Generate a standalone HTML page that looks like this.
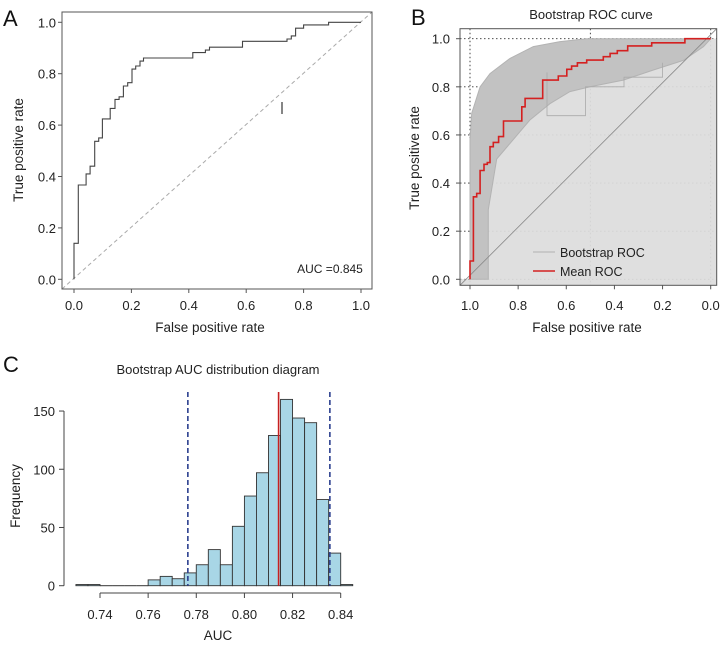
<!DOCTYPE html>
<html><head><meta charset="utf-8"><style>
html,body{margin:0;padding:0;background:#fff;}
svg{display:block;font-family:"Liberation Sans",Arial,sans-serif;}
</style></head><body>
<svg id="fig" width="723" height="647" viewBox="0 0 723 647" xmlns="http://www.w3.org/2000/svg">
<g id="pA"></g>
<g id="pB"></g>
<g id="pC"></g>
</svg>
<script>
// Panel A data
const rocA_fpr = [0,0,0.015,0.015,0.042,0.042,0.056,0.056,0.072,0.072,0.086,0.086,0.099,0.099,0.126,0.126,0.143,0.143,0.157,0.157,0.172,0.172,0.187,0.187,0.202,0.202,0.215,0.215,0.23,0.23,0.242,0.242,0.414,0.414,0.458,0.458,0.472,0.472,0.587,0.587,0.742,0.742,0.757,0.757,0.772,0.772,0.8,0.8,0.887,0.887,1];
const rocA_tpr = [0,0.14,0.14,0.367,0.367,0.41,0.41,0.44,0.44,0.537,0.537,0.55,0.55,0.624,0.624,0.665,0.665,0.70,0.70,0.71,0.71,0.752,0.752,0.765,0.765,0.818,0.818,0.83,0.83,0.849,0.849,0.861,0.861,0.882,0.882,0.892,0.892,0.903,0.903,0.926,0.926,0.935,0.935,0.947,0.947,0.977,0.977,0.99,0.99,1,1];
const ticksA = [0,0.2,0.4,0.6,0.8,1.0];
// Panel B data (x = axis value, reversed)
const meanB_x = [1,1,0.986,0.986,0.972,0.972,0.958,0.958,0.942,0.942,0.928,0.928,0.917,0.917,0.903,0.903,0.881,0.881,0.861,0.861,0.785,0.785,0.771,0.771,0.698,0.698,0.633,0.633,0.598,0.598,0.578,0.578,0.554,0.554,0.515,0.515,0.446,0.446,0.418,0.418,0.388,0.388,0.345,0.345,0.245,0.245,0.107,0.107,0];
const meanB_y = [0,0.076,0.076,0.343,0.343,0.357,0.357,0.452,0.452,0.478,0.478,0.485,0.485,0.551,0.551,0.569,0.569,0.593,0.593,0.658,0.658,0.717,0.717,0.752,0.752,0.828,0.828,0.845,0.845,0.873,0.873,0.886,0.886,0.90,0.90,0.911,0.911,0.925,0.925,0.939,0.939,0.95,0.95,0.97,0.97,0.983,0.983,1,1];
const upperB_x = [1,1,0.993,0.958,0.917,0.834,0.737,0.626,0.515,0];
const upperB_y = [0,0.58,0.69,0.80,0.855,0.918,0.967,0.988,1,1];
const lowerB_x = [1,0.924,0.924,0.889,0.834,0.751,0.668,0.585,0.501,0.363,0.238,0.114,0.03,0];
const lowerB_y = [0,0,0.29,0.50,0.565,0.662,0.73,0.78,0.80,0.828,0.87,0.91,0.967,1];
const outlierB_x = [0.68,0.68,0.52,0.52,0.36,0.36,0.20,0.20];
const outlierB_y = [0.86,0.68,0.68,0.80,0.80,0.84,0.84,0.90];
const ticksB = [1.0,0.8,0.6,0.4,0.2,0.0];
// Panel C data
const binStart = [0.730,0.735,0.740,0.745,0.750,0.755,0.760,0.765,0.770,0.775,0.780,0.785,0.790,0.795,0.800,0.805,0.810,0.815,0.820,0.825,0.830,0.835,0.840];
const binCount = [1,1,0,0,0,0,5,8,6,11,18,31,18,51,77,97,129,160,144,140,74,28,1];
const ciLines = [0.7765,0.8355];
const meanAUC = [0.8142];
const ticksCx = [0.74,0.76,0.78,0.80,0.82,0.84];
const ticksCy = [0,50,100,150];

const NS="http://www.w3.org/2000/svg";
function mk(parent,tag,attrs,text){const e=document.createElementNS(NS,tag);for(const k in attrs)e.setAttribute(k,attrs[k]);if(text!==undefined)e.textContent=text;parent.appendChild(e);return e;}
function path(xs,ys,sx,sy){return xs.map((x,i)=>(i?'L':'M')+sx(x).toFixed(1)+','+sy(ys[i]).toFixed(1)).join('');}

// ---------- Panel A ----------
const A=document.getElementById('pA');
const axA=v=>74+v*287, ayA=v=>279.3-v*257;
let e;
e=mk(A,'line',{x1:62,y1:289,x2:372,y2:12,stroke:'#aaa','stroke-width':1,'stroke-dasharray':'4,3'});


e=mk(A,'path',{d:path(rocA_fpr,rocA_tpr,axA,ayA),fill:'none',stroke:'#444','stroke-width':1.1});


e=mk(A,'rect',{x:62,y:12,width:310,height:277,fill:'none',stroke:'#555','stroke-width':1});


ticksA.forEach(t=>{
  mk(A,'line',{x1:axA(t),y1:289,x2:axA(t),y2:293,stroke:'#555'});
  e=mk(A,'text',{x:axA(t),y:310,'font-size':13,'text-anchor':'middle',fill:'#222'},t.toFixed(1));
  
  
  mk(A,'line',{x1:62,y1:ayA(t),x2:58,y2:ayA(t),stroke:'#555'});
  e=mk(A,'text',{x:56,y:ayA(t)+5,'font-size':13,'text-anchor':'end',fill:'#222'},t.toFixed(1));
  
  
});
e=mk(A,'text',{x:210,y:332,'font-size':13.5,'text-anchor':'middle',fill:'#222'},'False positive rate');


e=mk(A,'text',{x:23,y:150,'font-size':13.5,'text-anchor':'middle',fill:'#222',transform:'rotate(-90 23 150)'},'True positive rate');


e=mk(A,'text',{x:330,y:273,'font-size':12,'text-anchor':'middle',fill:'#222'},'AUC =0.845');


mk(A,'line',{x1:282,y1:102,x2:282,y2:114,stroke:'#444','stroke-width':1.3});
e=mk(A,'text',{x:3,y:26,'font-size':22,fill:'#111'},'A');



// ---------- Panel B ----------
const B=document.getElementById('pB');
const axB=v=>710.7-v*240.7, ayB=v=>279.3-v*240.6;
const L=460,T=28.7,R=716.7,Bt=285.3;
let up=path(upperB_x,upperB_y,axB,ayB)+'L'+R+','+ayB(1)+'L'+R+','+Bt+'L'+L+','+Bt+'L'+L+','+ayB(0)+'Z';
e=mk(B,'path',{d:up,fill:'#dedede',stroke:'none'});


[1.0,0.5,0.0].forEach(v=>mk(B,'line',{x1:axB(v),y1:T,x2:axB(v),y2:Bt,stroke:'#333','stroke-dasharray':'1.5,2.5','stroke-width':0.9}));
[1.0,0.8,0.6,0.4,0.2,0.0].forEach(v=>mk(B,'line',{x1:L,y1:ayB(v),x2:R,y2:ayB(v),stroke:'#333','stroke-dasharray':'1.5,2.5','stroke-width':0.9}));
mk(B,'path',{d:up,fill:'#dedede',stroke:'none',opacity:0.92});
const lx=lowerB_x.slice().reverse(), ly=lowerB_y.slice().reverse();
let band=path(upperB_x,upperB_y,axB,ayB)+path(lx,ly,axB,ayB).replace('M','L')+'Z';
e=mk(B,'path',{d:band,fill:'#c2c2c2',stroke:'#b3b3b3','stroke-width':1});


e=mk(B,'path',{d:path(outlierB_x,outlierB_y,axB,ayB),fill:'none',stroke:'#aaa','stroke-width':0.8});


e=mk(B,'line',{x1:L,y1:Bt,x2:R,y2:T,stroke:'#888','stroke-width':0.8});


e=mk(B,'path',{d:path(meanB_x,meanB_y,axB,ayB),fill:'none',stroke:'#d42020','stroke-width':1.6});


e=mk(B,'rect',{x:L,y:T,width:R-L,height:Bt-T,fill:'none',stroke:'#555'});


ticksB.forEach(t=>{
  mk(B,'line',{x1:axB(t),y1:Bt,x2:axB(t),y2:Bt+4,stroke:'#555'});
  e=mk(B,'text',{x:axB(t),y:310,'font-size':13,'text-anchor':'middle',fill:'#222'},t.toFixed(1));
  
  
  mk(B,'line',{x1:L,y1:ayB(t),x2:L-4,y2:ayB(t),stroke:'#555'});
  e=mk(B,'text',{x:450,y:ayB(1-t)+5,'font-size':13,'text-anchor':'end',fill:'#222'},(1-t).toFixed(1));
  
  
});
e=mk(B,'text',{x:587,y:332,'font-size':13.5,'text-anchor':'middle',fill:'#222'},'False positive rate');


e=mk(B,'text',{x:419,y:158,'font-size':13.5,'text-anchor':'middle',fill:'#222',transform:'rotate(-90 419 158)'},'True positive rate');


e=mk(B,'text',{x:591,y:19,'font-size':13,'text-anchor':'middle',fill:'#222'},'Bootstrap ROC curve');


e=mk(B,'line',{x1:533,y1:252,x2:555,y2:252,stroke:'#c0c0c0','stroke-width':1.5});


e=mk(B,'text',{x:560,y:257,'font-size':12.5,fill:'#222'},'Bootstrap ROC');


e=mk(B,'line',{x1:533,y1:271,x2:555,y2:271,stroke:'#d42020','stroke-width':1.6});


e=mk(B,'text',{x:560,y:276,'font-size':12.5,fill:'#222'},'Mean ROC');


e=mk(B,'text',{x:411,y:25,'font-size':22,fill:'#111'},'B');



// ---------- Panel C ----------
const C=document.getElementById('pC');
const axC=v=>100+(v-0.74)*2407, ayC=v=>585.7-v*1.1644;
const bw=0.005;
binStart.forEach((b,i)=>{
  const h=binCount[i];
  if(h>0){
    e=mk(C,'rect',{x:axC(b),y:ayC(h),width:bw*2407,height:ayC(0)-ayC(h),fill:'#a8d6e6',stroke:'#333','stroke-width':0.9});
  } else {
    e=mk(C,'line',{x1:axC(b),y1:ayC(0),x2:axC(b+bw),y2:ayC(0),stroke:'#333'});
  }
  
  
});
ciLines.forEach(v=>{
  e=mk(C,'line',{x1:axC(v),y1:392,x2:axC(v),y2:ayC(0),stroke:'#2b3f8f','stroke-width':1.6,'stroke-dasharray':'5,3'});
  
  
});
meanAUC.forEach(v=>{
  e=mk(C,'line',{x1:axC(v),y1:392,x2:axC(v),y2:ayC(0),stroke:'#c62020','stroke-width':1.6});
  
  
});
e=mk(C,'line',{x1:64,y1:ayC(0),x2:64,y2:ayC(150),stroke:'#444'});


ticksCy.forEach(t=>{
  mk(C,'line',{x1:64,y1:ayC(t),x2:59,y2:ayC(t),stroke:'#444'});
  e=mk(C,'text',{x:55,y:ayC(t)+5,'font-size':13,'text-anchor':'end',fill:'#222'},t);
  
  
});
e=mk(C,'line',{x1:axC(0.74),y1:593,x2:axC(0.84),y2:593,stroke:'#444'});


ticksCx.forEach(t=>{
  mk(C,'line',{x1:axC(t),y1:593,x2:axC(t),y2:598,stroke:'#444'});
  e=mk(C,'text',{x:axC(t),y:619,'font-size':13,'text-anchor':'middle',fill:'#222'},t.toFixed(2));
  
  
});
e=mk(C,'text',{x:218,y:640,'font-size':13.5,'text-anchor':'middle',fill:'#222'},'AUC');


e=mk(C,'text',{x:20,y:496,'font-size':13.5,'text-anchor':'middle',fill:'#222',transform:'rotate(-90 20 496)'},'Frequency');


e=mk(C,'text',{x:218,y:374,'font-size':13,'text-anchor':'middle',fill:'#222'},'Bootstrap AUC distribution diagram');


e=mk(C,'text',{x:3,y:372,'font-size':22,fill:'#111'},'C');


</script>
</body></html>
